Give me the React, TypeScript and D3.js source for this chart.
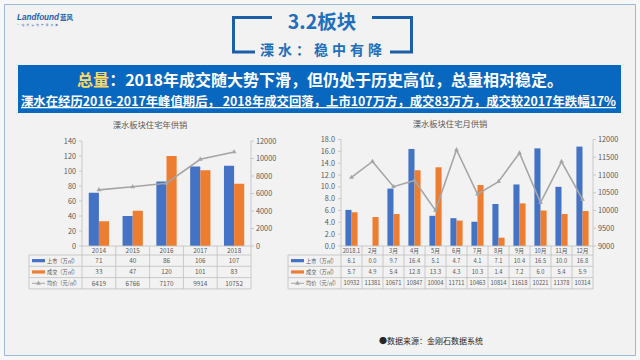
import React from 'react';
import * as d3 from 'd3';

const years = ['2014', '2015', '2016', '2017', '2018'];
const yearSupply = [71, 40, 86, 106, 107];
const yearDeal = [33, 47, 120, 101, 83];
const yearPrice = [6419, 6766, 7170, 9914, 10752];

const months = ['2018.1', '2月', '3月', '4月', '5月', '6月', '7月', '8月', '9月', '10月', '11月', '12月'];
const monthSupply = [6.1, 0.0, 9.7, 16.4, 5.1, 4.7, 4.1, 7.1, 10.4, 16.5, 10.0, 16.8];
const monthDeal = [5.7, 4.9, 5.4, 12.8, 13.3, 4.3, 10.3, 1.4, 7.2, 6.0, 5.4, 5.9];
const monthPrice = [10932, 11381, 10671, 10847, 10004, 11711, 10463, 10814, 11618, 10221, 11378, 10314];

const seriesLabels = ['上市（万㎡）', '成交（万㎡）', '均价（元/㎡）'];

const BLUE = '#4472C4';
const ORANGE = '#ED7D31';
const GRAY = '#A5A5A5';
const TXT = '#595959';
const GRID = '#BFBFBF';
const FONT = '"Noto Sans CJK SC", "Noto Sans", sans-serif';

type ChartProps = {
  title: string;
  titleX: number;
  cats: string[];
  supply: number[];
  deal: number[];
  price: number[];
  x0: number;
  x1: number;
  legendX: number;
  yTop: number;
  yBottom: number;
  leftMax: number;
  leftStep: number;
  leftFmt: (v: number) => string;
  rightMin: number;
  rightMax: number;
  rightStep: number;
  valFmt: (v: number) => string;
  barFrac: number;
  valSize: number;
};

function ComboChart(p: ChartProps) {
  const x = d3.scaleBand<string>().domain(p.cats).range([p.x0, p.x1]).padding(0);
  const bw = x.bandwidth();
  const barW = bw * p.barFrac;
  const y = d3.scaleLinear().domain([0, p.leftMax]).range([p.yBottom, p.yTop]);
  const y2 = d3.scaleLinear().domain([p.rightMin, p.rightMax]).range([p.yBottom, p.yTop]);
  const leftTicks = d3.range(0, p.leftMax + p.leftStep / 2, p.leftStep);
  const rightTicks = d3.range(p.rightMin, p.rightMax + p.rightStep / 2, p.rightStep);
  const cx = (c: string) => (x(c) as number) + bw / 2;
  const line = d3
    .line<number>()
    .x((_, i) => cx(p.cats[i]))
    .y((d) => y2(d));
  const tri = d3.symbol().type(d3.symbolTriangle).size(10)();

  const hdrTop = p.yBottom;
  const hdrBot = p.yBottom + 9;
  const rowH = 11.3;
  const rowsY = [hdrBot, hdrBot + rowH, hdrBot + 2 * rowH, hdrBot + 3 * rowH];
  const tableBottom = rowsY[3];
  const rows = [p.supply, p.deal, p.price];
  const labelW = p.x0 - p.legendX - 20;

  return (
    <g fontFamily={FONT}>
      <text x={p.titleX} y={p.yTop - 13} textAnchor="middle" fontSize={8.3} fill={TXT}>
        {p.title}
      </text>
      {/* left axis */}
      <line x1={p.x0} x2={p.x0} y1={p.yTop} y2={p.yBottom} stroke={GRID} strokeWidth={0.8} />
      {leftTicks.map((t) => (
        <g key={'l' + t}>
          <line x1={p.x0 - 3} x2={p.x0} y1={y(t)} y2={y(t)} stroke={GRID} strokeWidth={0.8} />
          <text x={p.x0 - 6} y={y(t)} dy="0.35em" textAnchor="end" fontSize={7.3} fill={TXT}>
            {p.leftFmt(t)}
          </text>
        </g>
      ))}
      {/* right axis */}
      <line x1={p.x1} x2={p.x1} y1={p.yTop} y2={p.yBottom} stroke={GRID} strokeWidth={0.8} />
      {rightTicks.map((t) => (
        <g key={'r' + t}>
          <line x1={p.x1} x2={p.x1 + 3} y1={y2(t)} y2={y2(t)} stroke={GRID} strokeWidth={0.8} />
          <text x={p.x1 + 5} y={y2(t)} dy="0.35em" textAnchor="start" fontSize={7.3} fill={TXT}>
            {t}
          </text>
        </g>
      ))}
      {/* bars */}
      {p.cats.map((c, i) => (
        <g key={'b' + c}>
          <rect x={cx(c) - barW} y={y(p.supply[i])} width={barW} height={p.yBottom - y(p.supply[i])} fill={BLUE} />
          <rect x={cx(c)} y={y(p.deal[i])} width={barW} height={p.yBottom - y(p.deal[i])} fill={ORANGE} />
        </g>
      ))}
      {/* price line */}
      <path d={line(p.price) || ''} fill="none" stroke={GRAY} strokeWidth={1.6} />
      {p.price.map((v, i) => (
        <path key={'m' + i} d={tri || ''} transform={`translate(${cx(p.cats[i])},${y2(v)})`} fill={GRAY} />
      ))}
      {/* table */}
      <line x1={p.x0} x2={p.x1} y1={hdrTop} y2={hdrTop} stroke={GRID} strokeWidth={0.8} />
      {rowsY.map((ry, i) => (
        <line key={'h' + i} x1={p.legendX} x2={p.x1} y1={ry} y2={ry} stroke={GRID} strokeWidth={0.8} />
      ))}
      <line x1={p.legendX} x2={p.legendX} y1={hdrBot} y2={tableBottom} stroke={GRID} strokeWidth={0.8} />
      {[...p.cats.map((c) => x(c) as number), p.x1].map((vx, i) => (
        <line key={'v' + i} x1={vx} x2={vx} y1={hdrTop} y2={tableBottom} stroke={GRID} strokeWidth={0.8} />
      ))}
      {p.cats.map((c) => (
        <text key={'c' + c} x={cx(c)} y={(hdrTop + hdrBot) / 2} dy="0.36em" textAnchor="middle" fontSize={p.valSize} fill={TXT}>
          {c}
        </text>
      ))}
      {rows.map((vals, r) =>
        vals.map((v, i) => (
          <text
            key={'t' + r + '-' + i}
            x={cx(p.cats[i])}
            y={rowsY[r] + rowH / 2}
            dy="0.36em"
            textAnchor="middle"
            fontSize={p.valSize}
            fill={TXT}
          >
            {r === 2 ? String(v) : p.valFmt(v)}
          </text>
        ))
      )}
      {/* legend cells */}
      {seriesLabels.map((lab, r) => {
        const my = rowsY[r] + rowH / 2;
        const lx = p.legendX + 3;
        return (
          <g key={'lg' + r}>
            {r < 2 ? (
              <rect x={lx} y={my - 1.6} width={13} height={3.2} fill={r === 0 ? BLUE : ORANGE} />
            ) : (
              <g>
                <line x1={lx} x2={lx + 13} y1={my} y2={my} stroke={GRAY} strokeWidth={1} />
                <path d={tri || ''} transform={`translate(${lx + 6.5},${my})`} fill={GRAY} />
              </g>
            )}
            <text
              x={lx + 15}
              y={my}
              dy="0.36em"
              fontSize={5.8}
              fill={TXT}
              textLength={r === 2 ? labelW : labelW - 2}
              lengthAdjust="spacingAndGlyphs"
            >
              {lab}
            </text>
          </g>
        );
      })}
    </g>
  );
}

export default function App() {
  return (
    <svg
      width={640}
      height={360}
      viewBox="0 0 640 360"
      style={{ position: 'absolute', left: 0, top: 0, display: 'block' }}
      fontFamily={FONT}
    >
      <rect x={0} y={0} width={640} height={360} fill="#F7F7F7" />
      <rect x={4.5} y={4.5} width={631} height={351} fill="#F2F2F2" stroke="#9DBAD6" strokeWidth={1} />

      {/* logo */}
      <text
        x={17}
        y={20}
        fontSize={8.5}
        fontWeight="bold"
        fontStyle="italic"
        fill="#1F5FAE"
        fontFamily='"Liberation Sans", Arial, sans-serif'
        textLength={42}
        lengthAdjust="spacingAndGlyphs"
      >
        Landfound
      </text>
      <text x={60} y={20} fontSize={6.5} fontWeight="bold" fill="#1F5FAE">
        蓝风
      </text>
      <text x={17} y={26} fontSize={2.6} fill="#1F5FAE" letterSpacing={2.2}>
        一站式房地产服务商
      </text>

      {/* header brackets */}
      <g stroke="#1D5FA7" strokeWidth={3} fill="none">
        <path d="M272,17.5 H233.5 V52 H255" />
        <path d="M372,17.5 H411.5 V52 H390" />
      </g>
      <text x={322} y={29} textAnchor="middle" fontSize={19.5} fontWeight="bold" fill="#1F6FBA">
        3.2板块
      </text>
      <text x={323} y={55} textAnchor="middle" fontSize={14} fontWeight="bold" fill="#1F6FBA" letterSpacing={4}>
        溧水：稳中有降
      </text>

      {/* banner */}
      <rect x={18} y={65} width={603} height={48} fill="#0868BF" />
      <text x={320} y={86} textAnchor="middle" fontSize={16} fontWeight="bold" fill="#FFFFFF">
        <tspan fill="#FFD966">总量</tspan>
        <tspan>：2018年成交随大势下滑，但仍处于历史高位，总量相对稳定。</tspan>
      </text>
      <text
        x={21}
        y={106}
        fontSize={12.5}
        fontWeight="bold"
        fill="#FFFFFF"
        textLength={595}
        lengthAdjust="spacingAndGlyphs"
        textDecoration="underline"
      >
        溧水在经历2016-2017年峰值期后， 2018年成交回落，上市107万方，成交83万方，成交较2017年跌幅17%
      </text>

      <ComboChart
        title="溧水板块住宅年供销"
        titleX={150}
        cats={years}
        supply={yearSupply}
        deal={yearDeal}
        price={yearPrice}
        x0={82}
        x1={251}
        legendX={29}
        yTop={141}
        yBottom={246}
        leftMax={140}
        leftStep={20}
        leftFmt={(v) => String(v)}
        rightMin={0}
        rightMax={12000}
        rightStep={2000}
        valFmt={(v) => String(v)}
        barFrac={0.3}
        valSize={6.4}
      />
      <ComboChart
        title="溧水板块住宅月供销"
        titleX={450}
        cats={months}
        supply={monthSupply}
        deal={monthDeal}
        price={monthPrice}
        x0={341}
        x1={593}
        legendX={288}
        yTop={139.5}
        yBottom={246}
        leftMax={18}
        leftStep={2}
        leftFmt={(v) => v.toFixed(1)}
        rightMin={9000}
        rightMax={12000}
        rightStep={500}
        valFmt={(v) => v.toFixed(1)}
        barFrac={0.29}
        valSize={5.8}
      />

      <text x={379} y={344} fontSize={8} fill="#262626">
        ●数据来源：金刚石数据系统
      </text>
    </svg>
  );
}
